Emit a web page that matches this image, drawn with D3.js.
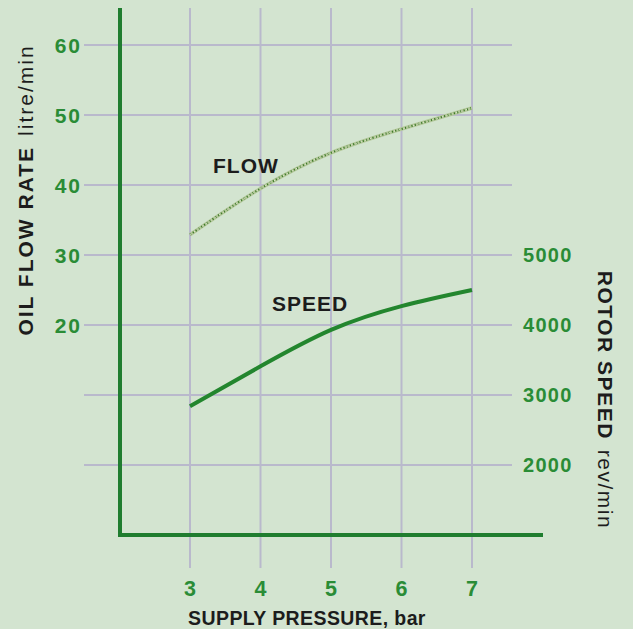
<!DOCTYPE html>
<html>
<head>
<meta charset="utf-8">
<script src="https://cdn.jsdelivr.net/npm/d3@7"></script>
<style>
  html, body { margin: 0; padding: 0; background: #d3e4d0; }
  svg { display: block; }
</style>
</head>
<body>
<div id="chart"></div>
<script>
// --- DATA ---
const pressure = [3, 4, 5, 6, 7];                 // bar
const flowRate = [32.9, 39.5, 44.6, 48.0, 51.0];  // litre/min
const rotorSpeed = [2840, 3410, 3930, 4270, 4500]; // rev/min
const flowTicks = [20, 30, 40, 50, 60];
const flowGrid = [0, 10, 20, 30, 40, 50, 60];
const speedTicks = [2000, 3000, 4000, 5000];

const width = 633;
const height = 629;

const green = "#1f7d2f";
const tickGreen = "#2a8c36";
const gridColor = "#b9b9cc";
const ink = "#1c1c1c";

const svg = d3.select("#chart").append("svg")
    .attr("width", width)
    .attr("height", height);

svg.append("rect")
    .attr("width", width)
    .attr("height", height)
    .attr("fill", "#d3e4d0");

// scales
const x = d3.scaleLinear().domain([3, 7]).range([190, 472]);
const yFlow = d3.scaleLinear().domain([0, 60]).range([465, 45]);
const ySpeed = d3.scaleLinear().domain([1000, 5000]).range([535, 255]);

const plotTop = yFlow(65) - 2;
const axisY = ySpeed(1000);
const axisX = 120;

// --- GRID ---
const grid = svg.append("g");
grid.selectAll(".hgrid")
    .data(flowGrid)
    .join("line")
    .attr("x1", 84)
    .attr("x2", 512)
    .attr("y1", d => yFlow(d))
    .attr("y2", d => yFlow(d))
    .attr("stroke", gridColor)
    .attr("stroke-width", 2);

grid.selectAll(".vgrid")
    .data(pressure)
    .join("line")
    .attr("x1", d => x(d))
    .attr("x2", d => x(d))
    .attr("y1", plotTop)
    .attr("y2", axisY + 33)
    .attr("stroke", gridColor)
    .attr("stroke-width", 2);

// --- AXES LINES ---
svg.append("line")
    .attr("x1", axisX).attr("x2", axisX)
    .attr("y1", plotTop).attr("y2", axisY + 2)
    .attr("stroke", green).attr("stroke-width", 4);

svg.append("line")
    .attr("x1", axisX - 2).attr("x2", 543)
    .attr("y1", axisY).attr("y2", axisY)
    .attr("stroke", green).attr("stroke-width", 4);

// --- TICK LABELS ---
const font = "'Liberation Sans', Arial, Helvetica, sans-serif";

svg.append("g").selectAll("text")
    .data(flowTicks)
    .join("text")
    .attr("x", 82)
    .attr("y", d => yFlow(d))
    .attr("dy", "0.36em")
    .attr("text-anchor", "end")
    .style("font-family", font)
    .style("font-weight", "bold")
    .style("font-size", "21px")
    .style("letter-spacing", "2px")
    .attr("fill", tickGreen)
    .text(d => d);

svg.append("g").selectAll("text")
    .data(speedTicks)
    .join("text")
    .attr("x", 523)
    .attr("y", d => ySpeed(d))
    .attr("dy", "0.36em")
    .attr("text-anchor", "start")
    .style("font-family", font)
    .style("font-weight", "bold")
    .style("font-size", "20px")
    .style("letter-spacing", "1.3px")
    .attr("fill", tickGreen)
    .text(d => d);

svg.append("g").selectAll("text")
    .data(pressure)
    .join("text")
    .attr("x", d => x(d))
    .attr("y", 596)
    .attr("text-anchor", "middle")
    .style("font-family", font)
    .style("font-weight", "bold")
    .style("font-size", "21.5px")
    .attr("fill", tickGreen)
    .text(d => d);

// --- AXIS TITLES ---
const title = (g, bold, normal, spacing) => {
    const t = g.append("text")
        .style("font-family", font)
        .style("font-size", "21px")
        .style("letter-spacing", spacing)
        .attr("fill", ink);
    t.append("tspan").style("font-weight", "bold").text(bold);
    t.append("tspan").style("font-weight", "normal").attr("dx", 10).text(normal);
    return t;
};

title(svg.append("g").attr("transform", "translate(33,190) rotate(-90)"),
      "OIL FLOW RATE", "litre/min", "2px")
    .attr("text-anchor", "middle");

title(svg.append("g").attr("transform", "translate(598,400) rotate(90)"),
      "ROTOR SPEED", "rev/min", "1.5px")
    .attr("text-anchor", "middle");

svg.append("text")
    .attr("x", 307)
    .attr("y", 625)
    .attr("text-anchor", "middle")
    .style("font-family", font)
    .style("font-weight", "bold")
    .style("font-size", "19.5px")
    .style("letter-spacing", "0.4px")
    .attr("fill", ink)
    .text("SUPPLY PRESSURE, bar");

// --- CURVES ---
const flowData = pressure.map((p, i) => [p, flowRate[i]]);
const speedData = pressure.map((p, i) => [p, rotorSpeed[i]]);

const flowLine = d3.line()
    .x(d => x(d[0]))
    .y(d => yFlow(d[1]))
    .curve(d3.curveNatural);

const speedLine = d3.line()
    .x(d => x(d[0]))
    .y(d => ySpeed(d[1]))
    .curve(d3.curveNatural);

// speckled flow line
svg.append("path")
    .datum(flowData)
    .attr("d", flowLine)
    .attr("fill", "none")
    .attr("stroke", "#b2c799")
    .attr("stroke-width", 3.5);

svg.append("path")
    .datum(flowData)
    .attr("d", flowLine)
    .attr("fill", "none")
    .attr("stroke", "#3f7a2a")
    .attr("stroke-width", 2)
    .attr("stroke-dasharray", "1.2,2.2");

svg.append("path")
    .datum(flowData)
    .attr("d", flowLine)
    .attr("fill", "none")
    .attr("stroke", "#e8efd8")
    .attr("stroke-width", 1)
    .attr("stroke-dasharray", "1,4");

svg.append("path")
    .datum(speedData)
    .attr("d", speedLine)
    .attr("fill", "none")
    .attr("stroke", "#23862e")
    .attr("stroke-width", 4)
    .attr("stroke-linecap", "butt");

// --- CURVE LABELS ---
svg.append("text")
    .attr("x", 213)
    .attr("y", 173)
    .style("font-family", font)
    .style("font-weight", "bold")
    .style("font-size", "21px")
    .style("letter-spacing", "1px")
    .attr("fill", ink)
    .text("FLOW");

svg.append("text")
    .attr("x", 272)
    .attr("y", 311)
    .style("font-family", font)
    .style("font-weight", "bold")
    .style("font-size", "21px")
    .style("letter-spacing", "1px")
    .attr("fill", ink)
    .text("SPEED");
</script>
</body>
</html>
